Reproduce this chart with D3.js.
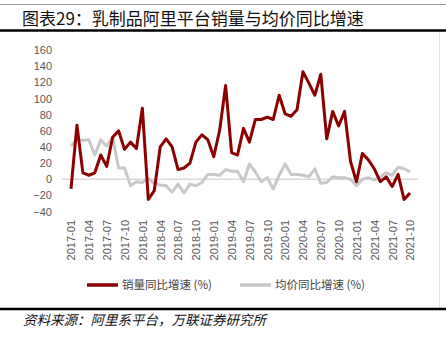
<!DOCTYPE html>
<html>
<head>
<meta charset="utf-8">
<script src="https://cdn.jsdelivr.net/npm/d3@7/dist/d3.min.js"></script>
<style>
  html, body { margin: 0; padding: 0; background: #fff; }
  svg { display: block; }
</style>
</head>
<body>
<svg id="chart" width="446" height="344"></svg>
<script>
// Monthly categories, 2017-01 … 2021-10
const months = [];
for (let y = 2017; y <= 2021; y++) {
  for (let m = 1; m <= 12; m++) {
    if (y === 2021 && m > 10) break;
    months.push(`${y}-${String(m).padStart(2, "0")}`);
  }
}

// 销量同比增速 (%)
const salesYoY = [
  -12, 67, 8, 5, 8, 30, 16, 52, 60, 37, 46, 38,
  88, -25, -14, 40, 50, 40, 12, 14, 20, 46, 55, 49,
  28, 61, 116, 33, 30, 63, 46, 74, 74, 77, 74, 104,
  81, 78, 86, 133, 119, 104, 130, 50, 84, 66, 84, 22,
  -3, 32, 24, 13, -3, 3, -9, 6, -25, -17
];

// 均价同比增速 (%)
const priceYoY = [
  41, 50, 48, 49, 30, 49, 41, 52, 14, 14, -8, -3,
  -4, 1, -5, -7, -8, -16, -6, -17, -6, -8, -4, 6,
  6, 5, 12, 10, 10, -3, 19, 9, -3, 2, -12, 5,
  19, 6, 6, 5, 3, 13, -5, -4, 3, 2, 2, 0,
  -8, 0, 2, -1, 3, 8, 5, 15, 13, 9
];

const yTicks = [-40, -20, 0, 20, 40, 60, 80, 100, 120, 140, 160];
const xTickLabels = months.filter((d, i) => i % 3 === 0);

const legendItems = [
  { name: "销量同比增速 (%)", color: "#8c0000" },
  { name: "均价同比增速 (%)", color: "#c8c8c8" }
];

const svg = d3.select("#chart");
const W = 446, H = 344;

// Header and footer rules
svg.append("line").attr("x1", 0).attr("x2", W).attr("y1", 4.5).attr("y2", 4.5)
  .attr("stroke", "#9a9a9a").attr("stroke-width", 1);
svg.append("text")
  .attr("x", 22).attr("y", 24.5)
  .attr("font-family", "'Noto Sans CJK SC', sans-serif")
  .attr("font-size", 17).attr("fill", "#111")
  .text("图表29：乳制品阿里平台销量与均价同比增速");
svg.append("line").attr("x1", 0).attr("x2", W).attr("y1", 30.5).attr("y2", 30.5)
  .attr("stroke", "#000").attr("stroke-width", 2.5);
svg.append("line").attr("x1", 439.5).attr("x2", 439.5).attr("y1", 32).attr("y2", 308)
  .attr("stroke", "#e4e4e4").attr("stroke-width", 1);

// Scales
const x = d3.scalePoint().domain(months).range([71, 410]);
const y = d3.scaleLinear().domain([-40, 160]).range([211.6, 50]);

// Y axis labels (no line, no ticks)
const yAxis = d3.axisLeft(y).tickValues(yTicks).tickSize(0).tickPadding(0);
const gy = svg.append("g").attr("transform", "translate(52,0)").call(yAxis);
gy.select(".domain").remove();
gy.selectAll("text")
  .attr("font-family", "'Liberation Sans', Arial, sans-serif")
  .attr("font-size", 11).attr("fill", "#595959");

// Zero baseline
svg.append("line")
  .attr("x1", 62).attr("x2", 418)
  .attr("y1", y(0)).attr("y2", y(0))
  .attr("stroke", "#d9d9d9").attr("stroke-width", 1.5);

// X axis labels, rotated
const xAxis = d3.axisBottom(x).tickValues(xTickLabels).tickSize(0).tickPadding(0);
const gx = svg.append("g").attr("transform", "translate(0,220)").call(xAxis);
gx.select(".domain").remove();
gx.selectAll("text")
  .attr("font-family", "'Liberation Sans', Arial, sans-serif")
  .attr("font-size", 11).attr("fill", "#595959")
  .attr("transform", "rotate(-90)")
  .attr("text-anchor", "end")
  .attr("dx", 0).attr("dy", "0.35em").attr("x", 0).attr("y", 0);

// Lines
const line = d3.line().x((d, i) => x(months[i])).y(d => y(d));
svg.append("path").datum(priceYoY)
  .attr("d", line).attr("fill", "none")
  .attr("stroke", legendItems[1].color).attr("stroke-width", 3)
  .attr("stroke-linejoin", "round");
svg.append("path").datum(salesYoY)
  .attr("d", line).attr("fill", "none")
  .attr("stroke", legendItems[0].color).attr("stroke-width", 3)
  .attr("stroke-linejoin", "round");

// Legend
const legendX = [87, 240];
legendItems.forEach((d, i) => {
  const g = svg.append("g").attr("transform", `translate(${legendX[i]},285)`);
  g.append("line").attr("x1", 0).attr("x2", 31).attr("y1", 0).attr("y2", 0)
    .attr("stroke", d.color).attr("stroke-width", 3.5);
  g.append("text").attr("x", 35).attr("y", 0).attr("dy", "0.35em")
    .attr("font-family", "'Noto Sans CJK SC', sans-serif")
    .attr("font-size", 11.5).attr("fill", "#444")
    .text(d.name);
});

// Footer
svg.append("line").attr("x1", 0).attr("x2", W).attr("y1", 309).attr("y2", 309)
  .attr("stroke", "#000").attr("stroke-width", 2.5);
svg.append("text")
  .attr("x", 23).attr("y", 325)
  .attr("font-family", "'Noto Sans CJK SC', sans-serif")
  .attr("font-size", 13.5).attr("font-style", "italic").attr("fill", "#111")
  .text("资料来源：阿里系平台，万联证券研究所");
</script>
</body>
</html>
